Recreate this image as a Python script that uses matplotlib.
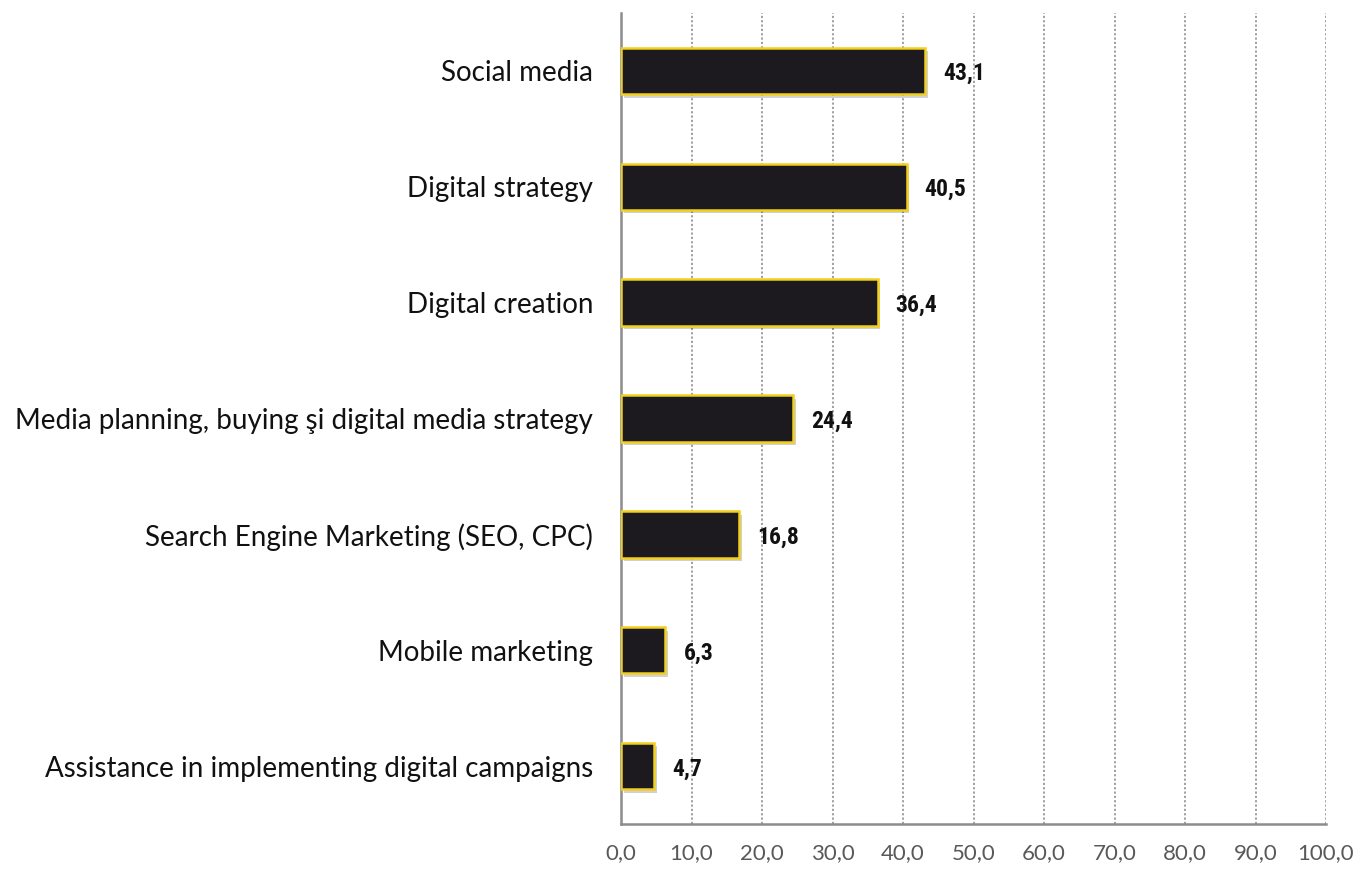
import matplotlib
matplotlib.use("Agg")
import matplotlib.pyplot as plt
import matplotlib.patheffects as pe

categories = [
    "Social media",
    "Digital strategy",
    "Digital creation",
    "Media planning, buying şi digital media strategy",
    "Search Engine Marketing (SEO, CPC)",
    "Mobile marketing",
    "Assistance in implementing digital campaigns",
]
values = [43.1, 40.5, 36.4, 24.4, 16.8, 6.3, 4.7]
x_ticks = [0, 10, 20, 30, 40, 50, 60, 70, 80, 90, 100]
x_tick_labels = ["0,0", "10,0", "20,0", "30,0", "40,0", "50,0",
                 "60,0", "70,0", "80,0", "90,0", "100,0"]

label_font = ["Lato", "DejaVu Sans"]
value_font = ["Liberation Sans Narrow", "Roboto Condensed", "Open Sans Condensed", "Roboto", "DejaVu Sans"]

fig = plt.figure(figsize=(13.55, 8.69), dpi=100)
ax = fig.add_axes([621 / 1355, 45 / 869, 705 / 1355, 811 / 869])

y = list(range(len(categories)))[::-1]
bars = ax.barh(y, values, height=0.4, color="#1c1a1f", edgecolor="#f2cf1a",
               linewidth=1.8, zorder=3)
for b in bars:
    b.set_path_effects([pe.SimplePatchShadow(offset=(2, -2.5), shadow_rgbFace="#000000", alpha=0.18),
                        pe.Normal()])

for yi, v in zip(y, values):
    ax.annotate(f"{v:.1f}".replace(".", ","), xy=(v, yi), xytext=(13, -2),
                textcoords="offset points", va="center", ha="left",
                fontsize=17, fontweight="bold", family=value_font, color="#111111")

ax.set_xlim(0, 100)
ax.set_ylim(-0.5, len(categories) - 0.5)
ax.set_yticks(y)
ax.set_yticklabels(categories, fontsize=20, family=label_font, color="#111111")
ax.set_xticks(x_ticks)
ax.set_xticklabels(x_tick_labels, fontsize=16, family=label_font, color="#595959")

ax.tick_params(axis="y", length=0, pad=20)
ax.tick_params(axis="x", length=0, pad=14)
ax.grid(axis="x", linestyle=(0, (1.2, 1.2)), color="#999999", linewidth=1.3, zorder=0)
ax.set_axisbelow(True)
for s in ["top", "right"]:
    ax.spines[s].set_visible(False)
for s in ["left", "bottom"]:
    ax.spines[s].set_color("#8c8c8c")
    ax.spines[s].set_linewidth(1.8)

fig.savefig("out.png", dpi=100)
